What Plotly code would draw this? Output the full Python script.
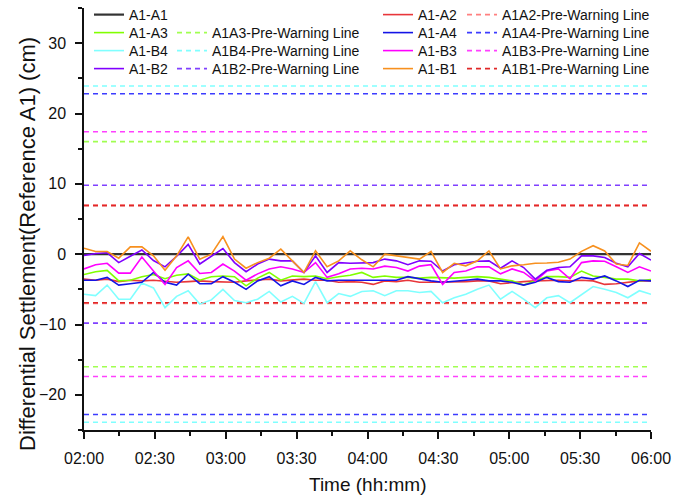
import plotly.graph_objects as go

# sample times, minutes after midnight (02:00 -> 06:00)
times = [120.0, 124.9, 129.8, 134.7, 139.6, 144.5, 149.4, 154.3, 159.2, 164.1,
         169.0, 173.9, 178.8, 183.7, 188.6, 193.5, 198.4, 203.3, 208.2, 213.1,
         218.0, 222.9, 227.8, 232.7, 237.6, 242.4, 247.3, 252.2, 257.1, 262.0,
         266.9, 271.8, 276.7, 281.6, 286.5, 291.4, 296.3, 301.2, 306.1, 311.0,
         315.9, 320.8, 325.7, 330.6, 335.5, 340.4, 345.3, 350.2, 355.1, 360.0]

tick_vals = [120, 150, 180, 210, 240, 270, 300, 330, 360]
tick_text = ["02:00", "02:30", "03:00", "03:30", "04:00", "04:30", "05:00", "05:30", "06:00"]

a1_a1 = [0.0] * 50
a1_a2 = [-3.55, -3.7, -3.55, -3.9, -3.7, -3.8, -3.7, -3.9, -4.0, -3.9, -3.8, -3.9, -4.0,
         -4.0, -3.8, -3.7, -3.55, -3.8, -3.7, -3.55, -3.7, -3.7, -4.0, -3.9, -4.0,
         -4.3, -3.8, -3.9, -3.7, -4.0, -4.0, -4.0, -4.0, -3.9, -3.8, -3.8, -4.2,
         -4.0, -3.9, -3.8, -3.7, -3.7, -3.8, -3.7, -3.8, -4.3, -4.2, -4.0, -3.8, -3.8]
a1_a3 = [-2.9, -2.5, -2.3, -3.8, -3.7, -3.2, -2.9, -3.5, -3.0, -2.8, -3.7, -3.2, -3.1,
         -3.2, -4.5, -3.4, -2.6, -3.7, -3.1, -3.2, -3.1, -3.5, -3.2, -3.0, -2.6,
         -3.3, -3.1, -3.3, -3.3, -3.4, -3.3, -3.4, -3.4, -3.3, -3.2, -3.3, -3.5,
         -3.8, -4.4, -3.8, -3.2, -3.2, -3.3, -2.4, -3.1, -3.3, -3.55, -3.55, -3.8, -3.6]
a1_a4 = [-3.7, -3.7, -3.3, -4.4, -4.2, -4.0, -2.6, -4.0, -4.4, -2.85, -4.2, -4.2, -3.2,
         -4.0, -5.0, -3.8, -3.2, -4.5, -3.8, -4.3, -3.3, -3.8, -3.7, -3.7, -3.8,
         -3.7, -3.8, -3.7, -3.2, -3.55, -3.8, -4.0, -3.8, -3.7, -3.55, -3.8, -3.8,
         -4.0, -4.4, -4.0, -3.3, -3.9, -4.0, -3.3, -3.55, -3.1, -3.8, -4.6, -3.7, -3.8]
a1_b4 = [-5.7, -5.9, -4.4, -6.4, -6.4, -4.1, -4.8, -7.6, -6.0, -5.2, -7.1, -6.5, -5.0,
         -6.6, -6.9, -6.4, -5.3, -6.8, -6.0, -7.0, -3.9, -6.9, -5.6, -6.0, -5.3,
         -5.2, -5.9, -5.2, -5.2, -5.45, -5.3, -6.9, -6.2, -5.7, -5.0, -4.4, -6.4,
         -5.3, -6.4, -7.6, -6.2, -5.9, -6.9, -5.7, -4.6, -5.0, -5.45, -6.2, -5.2, -5.7]
a1_b3 = [-2.1, -1.5, -1.3, -2.7, -2.7, -0.4, -2.4, -4.3, -1.9, -0.95, -2.75, -2.6, -1.4,
         -2.4, -3.7, -2.8, -2.1, -1.8, -2.1, -2.6, -1.2, -3.3, -2.8, -2.1, -2.0,
         -2.1, -1.7, -1.9, -2.4, -1.7, -1.5, -4.3, -2.6, -2.4, -1.8, -1.8, -2.8,
         -2.1, -2.6, -3.8, -2.4, -2.1, -3.5, -1.2, -0.95, -1.0, -1.8, -2.6, -1.8, -2.4]
a1_b2 = [-0.2, 0.1, 0.2, -1.2, -0.3, 0.6, -0.9, -1.8, -0.3, 1.4, -1.4, -0.3, 0.8,
         -1.2, -2.5, -1.4, -0.7, -0.95, -0.95, -2.6, -0.24, -2.6, -1.2, -1.3, -1.3,
         -1.2, -0.7, -0.95, -1.5, -0.95, -1.0, -2.4, -1.5, -1.3, -1.0, -0.95, -2.0,
         -0.95, -1.9, -3.55, -2.3, -1.9, -1.8, -0.24, -0.24, -0.47, -1.3, -1.8, 0.1, -0.85]
a1_b1 = [0.85, 0.38, 0.38, -0.57, 1.04, 1.04, -0.24, -2.27, -0.24, 2.46, -0.71, 0.0, 2.5,
         -0.7, -2.0, -1.2, -0.57, 0.71, -0.95, -2.6, 0.47, -1.8, -0.95, 0.47, -0.8,
         -1.8, 0.0, -0.24, -0.47, -0.7, 0.38, -2.6, -1.3, -1.66, -0.95, 0.47, -2.1,
         -1.66, -1.5, -1.3, -1.25, -1.15, -0.7, 0.4, 1.2, 0.45, -1.4, -1.6, 1.6, 0.4]

# pre-warning thresholds (+/-), cm
pw_a1a2 = 7.0
pw_a1a3 = 16.0
pw_a1a4 = 22.8
pw_a1b4 = 23.9
pw_a1b3 = 17.4
pw_a1b2 = 9.8
pw_a1b1 = 6.9

FONT = "Liberation Sans, Arial, sans-serif"
L, R, T, B = 84, 39, 8, 69
W, H = 690, 499
pw = W - L - R
ph = H - T - B


def px2x(px):
    return (px - L) / pw


def py2y(py):
    return 1 - (py - T) / ph


fig = go.Figure()
legends = {}
leg_common = dict(bgcolor="rgba(0,0,0,0)", borderwidth=0, xanchor="left", yanchor="middle",
                  font=dict(family=FONT, size=14, color="#111"), itemwidth=30)
col_left = [89, 172, 378, 462]
row_y = [15, 33, 51, 69]
counter = [0]


def legend_slot(col, row):
    counter[0] += 1
    key = "legend" if counter[0] == 1 else "legend%d" % counter[0]
    legends[key] = dict(x=px2x(col_left[col]), y=py2y(row_y[row]), **leg_common)
    return key


def warn(name, val, color, col, row):
    t0, t1 = times[0], times[-1]
    fig.add_trace(go.Scatter(
        x=[t0, t1, None, t0, t1], y=[val, val, None, -val, -val],
        mode="lines", name=name, legend=legend_slot(col, row),
        line=dict(color=color, width=1.6, dash="5px,4px"),
        connectgaps=False, hoverinfo="skip"))


def series(name, vals, color, col, row, width=1.6):
    fig.add_trace(go.Scatter(
        x=times, y=vals, mode="lines", name=name, legend=legend_slot(col, row),
        line=dict(color=color, width=width)))


warn("A1A2-Pre-Warning Line", pw_a1a2, "#FF8080", 3, 0)
warn("A1A4-Pre-Warning Line", pw_a1a4, "#3C3CFF", 3, 1)
warn("A1B3-Pre-Warning Line", pw_a1b3, "#FF40FF", 3, 2)
warn("A1B1-Pre-Warning Line", pw_a1b1, "#E02828", 3, 3)
warn("A1A3-Pre-Warning Line", pw_a1a3, "#A0FF50", 1, 1)
warn("A1B4-Pre-Warning Line", pw_a1b4, "#80FFFF", 1, 2)
warn("A1B2-Pre-Warning Line", pw_a1b2, "#8040FF", 1, 3)

series("A1-A1", a1_a1, "#333333", 0, 0, 2.2)
series("A1-B4", a1_b4, "#80FFFF", 0, 2)
series("A1-A2", a1_a2, "#E8363A", 2, 0)
series("A1-A3", a1_a3, "#80FF00", 0, 1)
series("A1-A4", a1_a4, "#1414E6", 2, 1)
series("A1-B3", a1_b3, "#FF00FF", 2, 2)
series("A1-B2", a1_b2, "#8000FF", 0, 3)
series("A1-B1", a1_b1, "#F7901E", 2, 3)

axis_common = dict(showline=True, linecolor="#111", linewidth=1.5, mirror=False,
                   ticks="outside", ticklen=7, tickwidth=1.5, tickcolor="#111",
                   showgrid=False, zeroline=False, ticklabelstandoff=6,
                   tickfont=dict(family=FONT, size=16, color="#111"))

fig.update_layout(
    width=W, height=H,
    margin=dict(l=L, r=R, t=T, b=B, autoexpand=False),
    plot_bgcolor="white", paper_bgcolor="white",
    font=dict(family=FONT, size=16, color="#111"),
    showlegend=True,
    xaxis=dict(range=[times[0], times[-1]], tickvals=tick_vals, ticktext=tick_text,
               minor=dict(dtick=15, tick0=120, ticks="outside", ticklen=4,
                          tickwidth=1.5, tickcolor="#111", showgrid=False),
               **axis_common),
    yaxis=dict(range=[-25, 35], tick0=0, dtick=10,
               minor=dict(dtick=5, ticks="outside", ticklen=4,
                          tickwidth=1.5, tickcolor="#111", showgrid=False),
               **axis_common),
    annotations=[
        dict(text="Time (hh:mm)", x=0.5, y=py2y(484), xref="paper", yref="paper",
             showarrow=False, xanchor="center", yanchor="middle",
             font=dict(family=FONT, size=19, color="#111")),
        dict(text="Differential Settlement(Reference A1) (cm)", x=px2x(27), y=py2y(244),
             xref="paper", yref="paper", showarrow=False, textangle=-90,
             xanchor="center", yanchor="middle",
             font=dict(family=FONT, size=22, color="#111")),
    ],
)
fig.update_layout(**legends)

fig.write_html("out.html", config={"displayModeBar": False})

# remove the browser's default 8px body margin so the figure sits at the window origin
with open("out.html", "r", encoding="utf-8") as f:
    html = f.read()
html = html.replace("<body>", '<body style="margin:0;padding:0;overflow:hidden">', 1)
with open("out.html", "w", encoding="utf-8") as f:
    f.write(html)
